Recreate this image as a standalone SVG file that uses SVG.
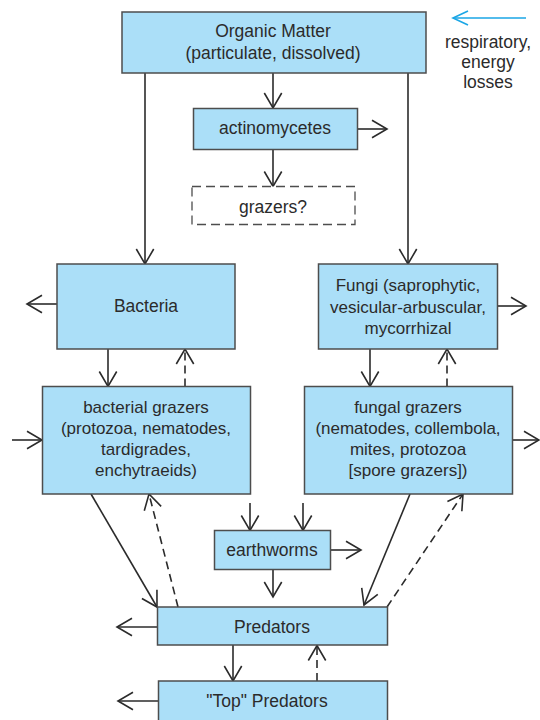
<svg xmlns="http://www.w3.org/2000/svg" width="540" height="720" viewBox="0 0 540 720">
  <style>
    .box { fill: #abdff8; stroke: #4d4d4d; stroke-width: 1.5; }
    .dbox { fill: #ffffff; stroke: #4d4d4d; stroke-width: 1.3; stroke-dasharray: 9 5; }
    .lbl { font-family: "Liberation Sans", Arial, sans-serif; font-size: 17px; fill: #2b2b2b; text-anchor: middle; }
    .big { font-size: 17.5px; }
    .ln { fill: none; stroke: #2b2b2b; stroke-width: 1.6; marker-end: url(#arr); }
    .dash { stroke-dasharray: 8 5; }
    .blue { fill: none; stroke: #1aa6e6; stroke-width: 1.6; marker-end: url(#arrBlue); }
  </style>
  <defs>
    <marker id="arr" viewBox="-18 -11 20 22" markerWidth="20" markerHeight="22" refX="0" refY="0" orient="auto" markerUnits="userSpaceOnUse">
      <path d="M-15,-8.7 L0,0 L-15,8.7" fill="none" stroke="#2b2b2b" stroke-width="1.6" stroke-dasharray="none"/>
    </marker>
    <marker id="arrBlue" viewBox="-18 -11 20 22" markerWidth="20" markerHeight="22" refX="0" refY="0" orient="auto" markerUnits="userSpaceOnUse">
      <path d="M-15,-7 L0,0 L-15,7" fill="none" stroke="#1aa6e6" stroke-width="1.6"/>
    </marker>
  </defs>

  <rect width="540" height="720" fill="#ffffff"/>

  <!-- connectors -->
  <g id="connectors">
    <line class="ln" x1="273" y1="73" x2="273" y2="108"/>
    <line class="ln" x1="145" y1="73" x2="145" y2="264"/>
    <line class="ln" x1="408" y1="73" x2="408" y2="264"/>
    <line class="ln" x1="358" y1="129" x2="387" y2="129"/>
    <line class="ln" x1="273" y1="149" x2="273" y2="186.5"/>
    <line class="ln" x1="57" y1="304" x2="27" y2="304"/>
    <line class="ln" x1="108" y1="349" x2="108" y2="386.5"/>
    <line class="ln dash" x1="185" y1="386.5" x2="185" y2="349"/>
    <line class="ln" x1="497" y1="306" x2="526" y2="306"/>
    <line class="ln" x1="370" y1="349" x2="370" y2="386.5"/>
    <line class="ln dash" x1="447" y1="386.5" x2="447" y2="349"/>
    <line class="ln" x1="12" y1="440" x2="42" y2="440"/>
    <line class="ln" x1="512" y1="440" x2="539" y2="440"/>
    <line class="ln" x1="250" y1="503" x2="250" y2="530.5"/>
    <line class="ln" x1="303" y1="503" x2="303" y2="530.5"/>
    <line class="ln" x1="330" y1="550" x2="361" y2="550"/>
    <line class="ln" x1="273" y1="569" x2="273" y2="597"/>
    <line class="ln" x1="91" y1="494" x2="157" y2="607"/>
    <line class="ln dash" x1="178" y1="607" x2="149" y2="494"/>
    <line class="ln" x1="410" y1="494" x2="364" y2="605"/>
    <line class="ln dash" x1="387" y1="607" x2="463" y2="494"/>
    <line class="ln" x1="157" y1="627" x2="117" y2="627"/>
    <line class="ln" x1="233" y1="645" x2="233" y2="681"/>
    <line class="ln dash" x1="317" y1="681" x2="317" y2="645.5"/>
    <line class="ln" x1="158" y1="701" x2="118" y2="701"/>
    <line class="blue" x1="526" y1="18" x2="453" y2="18"/>
  </g>

  <g id="organic-matter">
    <rect class="box" x="122" y="12" width="304" height="61"/>
    <text class="lbl big" x="273" y="37">Organic Matter</text>
    <text class="lbl big" x="273" y="59">(particulate, dissolved)</text>
  </g>

  <g id="legend">
    <text class="lbl big" x="488" y="48">respiratory,</text>
    <text class="lbl big" x="488" y="68">energy</text>
    <text class="lbl big" x="488" y="88">losses</text>
  </g>

  <g id="actinomycetes">
    <rect class="box" x="193.5" y="108.5" width="164" height="41"/>
    <text class="lbl big" x="275" y="134">actinomycetes</text>
  </g>

  <g id="grazers">
    <rect class="dbox" x="192" y="186.5" width="163" height="38"/>
    <text class="lbl big" x="273" y="213">grazers?</text>
  </g>

  <g id="bacteria">
    <rect class="box" x="57" y="264" width="178" height="85"/>
    <text class="lbl big" x="146" y="312">Bacteria</text>
  </g>

  <g id="fungi">
    <rect class="box" x="318.5" y="264" width="179" height="85"/>
    <text class="lbl" x="408" y="291">Fungi (saprophytic,</text>
    <text class="lbl" x="408" y="312.5">vesicular-arbuscular,</text>
    <text class="lbl" x="408" y="333.5">mycorrhizal</text>
  </g>

  <g id="bacterial-grazers">
    <rect class="box" x="42.5" y="386.5" width="208" height="107.5"/>
    <text class="lbl" x="146" y="413">bacterial grazers</text>
    <text class="lbl" x="146" y="434">(protozoa, nematodes,</text>
    <text class="lbl" x="146" y="455">tardigrades,</text>
    <text class="lbl" x="146" y="476">enchytraeids)</text>
  </g>

  <g id="fungal-grazers">
    <rect class="box" x="304.5" y="386.5" width="208" height="107.5"/>
    <text class="lbl" x="408" y="413">fungal grazers</text>
    <text class="lbl" x="408" y="434">(nematodes, collembola,</text>
    <text class="lbl" x="408" y="455">mites, protozoa</text>
    <text class="lbl" x="408" y="476">[spore grazers])</text>
  </g>

  <g id="earthworms">
    <rect class="box" x="214.5" y="530.5" width="116" height="39"/>
    <text class="lbl big" x="272" y="556">earthworms</text>
  </g>

  <g id="predators">
    <rect class="box" x="157.5" y="607" width="230" height="38"/>
    <text class="lbl big" x="272" y="633">Predators</text>
  </g>

  <g id="top-predators">
    <rect class="box" x="158.5" y="681" width="229" height="40"/>
    <text class="lbl big" x="267" y="707">"Top" Predators</text>
  </g>
</svg>
